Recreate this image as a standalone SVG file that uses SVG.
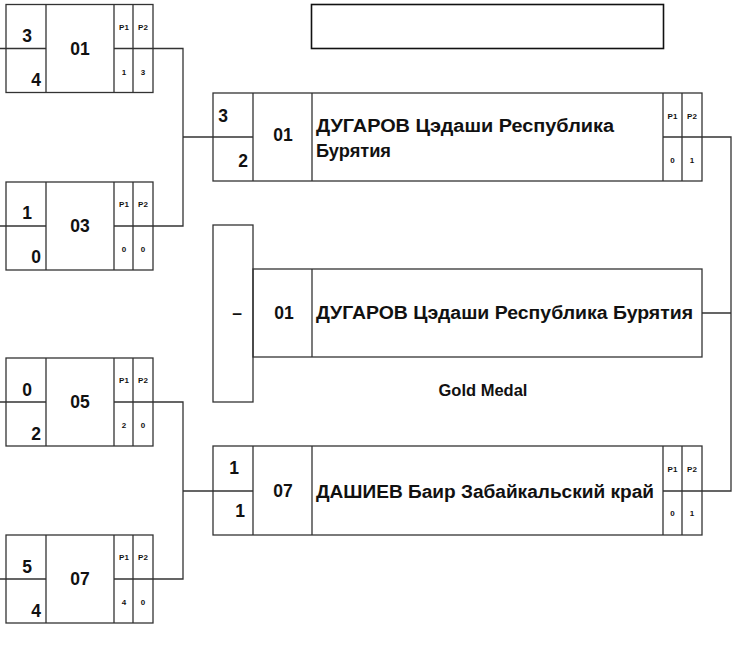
<svg xmlns="http://www.w3.org/2000/svg" width="735" height="665" viewBox="0 0 735 665">
<style>
.l{stroke:#333;stroke-width:1.3;fill:none}
.t{font-family:"Liberation Sans",Arial,sans-serif;font-weight:bold;fill:#111}
.s{font-size:17.5px}
.m{font-size:17.5px;text-anchor:middle}
.p{font-size:8px;text-anchor:middle}
.n{font-size:17.5px}
</style>
<rect width="735" height="665" fill="#fff"/>
<g id="title"><rect x="311.5" y="4.5" width="352" height="44" fill="none" stroke="#111" stroke-width="1.6"/></g>
<defs>
<g id="lbox">
<rect class="l" x="6" y="0" width="147" height="88"/>
<path class="l" d="M46 0V88M114 0V88M133 0V88M6 44H46M114 44H153"/>
</g>
</defs>
<g id="m01">
<use href="#lbox" x="0" y="4.5"/>
<text class="t s" x="27" y="42" text-anchor="middle">3</text>
<text class="t s" x="36" y="86" text-anchor="middle">4</text>
<text class="t m" x="80" y="55">01</text>
<text class="t p" x="124" y="30">P1</text><text class="t p" x="143" y="30">P2</text>
<text class="t p" x="124" y="75">1</text><text class="t p" x="143" y="75">3</text>
</g>
<g id="m03">
<use href="#lbox" x="0" y="182"/>
<text class="t s" x="27" y="219" text-anchor="middle">1</text>
<text class="t s" x="36" y="263" text-anchor="middle">0</text>
<text class="t m" x="80" y="232">03</text>
<text class="t p" x="124" y="207">P1</text><text class="t p" x="143" y="207">P2</text>
<text class="t p" x="124" y="252">0</text><text class="t p" x="143" y="252">0</text>
</g>
<g id="m05">
<use href="#lbox" x="0" y="358"/>
<text class="t s" x="27" y="396" text-anchor="middle">0</text>
<text class="t s" x="36" y="440" text-anchor="middle">2</text>
<text class="t m" x="80" y="408">05</text>
<text class="t p" x="124" y="383">P1</text><text class="t p" x="143" y="383">P2</text>
<text class="t p" x="124" y="428">2</text><text class="t p" x="143" y="428">0</text>
</g>
<g id="m07">
<use href="#lbox" x="0" y="535"/>
<text class="t s" x="27" y="573" text-anchor="middle">5</text>
<text class="t s" x="36" y="617" text-anchor="middle">4</text>
<text class="t m" x="80" y="585">07</text>
<text class="t p" x="124" y="560">P1</text><text class="t p" x="143" y="560">P2</text>
<text class="t p" x="124" y="605">4</text><text class="t p" x="143" y="605">0</text>
</g>
<g id="semi1">
<rect class="l" x="213" y="93" width="489" height="88"/>
<path class="l" d="M253 93V181M312 93V181M663 93V181M682 93V181M213 137H253M663 137H702"/>
<text class="t s" x="223" y="122" text-anchor="middle">3</text>
<text class="t s" x="243" y="167" text-anchor="middle">2</text>
<text class="t m" x="283" y="141">01</text>
<text class="t n" x="316" y="132" textLength="298" lengthAdjust="spacingAndGlyphs">ДУГАРОВ Цэдаши Республика</text>
<text class="t n" x="316" y="157" textLength="75" lengthAdjust="spacingAndGlyphs">Бурятия</text>
<text class="t p" x="672.5" y="119">P1</text><text class="t p" x="692" y="119">P2</text>
<text class="t p" x="672.5" y="163">0</text><text class="t p" x="692" y="163">1</text>
</g>
<g id="final">
<rect class="l" x="213" y="225" width="40" height="177"/>
<rect class="l" x="253" y="269" width="449" height="88"/>
<path class="l" d="M312 269V357"/>
<text class="t m" x="237" y="319">–</text>
<text class="t m" x="284" y="319">01</text>
<text class="t n" x="316" y="319" textLength="377" lengthAdjust="spacingAndGlyphs">ДУГАРОВ Цэдаши Республика Бурятия</text>
<text class="t m" x="483" y="396" style="font-size:16.5px">Gold Medal</text>
</g>
<g id="semi2">
<rect class="l" x="213" y="446" width="489" height="89"/>
<path class="l" d="M253 446V535M312 446V535M663 446V535M682 446V535M213 491H253M663 491H702"/>
<text class="t s" x="234" y="474" text-anchor="middle">1</text>
<text class="t s" x="240" y="517" text-anchor="middle">1</text>
<text class="t m" x="283" y="497">07</text>
<text class="t n" x="316" y="498" textLength="338" lengthAdjust="spacingAndGlyphs">ДАШИЕВ Баир Забайкальский край</text>
<text class="t p" x="672.5" y="472">P1</text><text class="t p" x="692" y="472">P2</text>
<text class="t p" x="672.5" y="516">0</text><text class="t p" x="692" y="516">1</text>
</g>
<g id="connectors">
<path class="l" d="M0 48.5H6M0 226H6M0 402H6M0 579H6"/>
<path class="l" d="M153 48.5H183V226H153M183 137H213"/>
<path class="l" d="M153 402H183V579H153M183 491H213"/>
<path class="l" d="M702 137H731V491H702M702 313H731"/>
</g>
</svg>
